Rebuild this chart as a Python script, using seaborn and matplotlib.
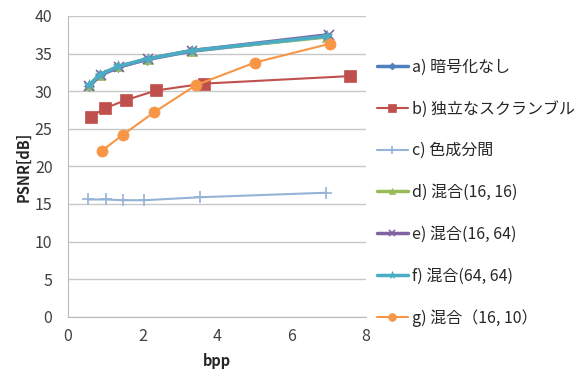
import pandas as pd
import matplotlib.pyplot as plt
import seaborn as sns

labels = ['a) 暗号化なし', 'b) 独立なスクランブル', 'c) 色成分間',
          'd) 混合(16, 16)', 'e) 混合(16, 64)', 'f) 混合(64, 64)', 'g) 混合（16, 10）']

bpp_a = [0.57, 0.86, 1.35, 2.13, 3.31, 6.94]
psnr_a = [30.7, 32.2, 33.2, 34.2, 35.3, 37.3]
bpp_b = [0.62, 0.99, 1.55, 2.38, 3.65, 7.57]
psnr_b = [26.6, 27.7, 28.8, 30.1, 31.0, 32.0]
bpp_c = [0.55, 1.02, 1.48, 2.05, 3.56, 6.94]
psnr_c = [15.6, 15.6, 15.5, 15.5, 15.9, 16.5]
bpp_d = [0.57, 0.87, 1.36, 2.14, 3.33, 6.96]
psnr_d = [30.8, 32.2, 33.3, 34.3, 35.4, 37.2]
bpp_e = [0.58, 0.88, 1.37, 2.15, 3.34, 7.0]
psnr_e = [30.7, 32.1, 33.2, 34.3, 35.4, 37.5]
bpp_f = [0.57, 0.87, 1.36, 2.14, 3.33, 6.96]
psnr_f = [30.8, 32.2, 33.3, 34.3, 35.4, 37.3]
bpp_g = [0.92, 1.48, 2.32, 3.44, 5.02, 7.03]
psnr_g = [22.1, 24.2, 27.2, 30.8, 33.8, 36.3]

all_bpp = [bpp_a, bpp_b, bpp_c, bpp_d, bpp_e, bpp_f, bpp_g]
all_psnr = [psnr_a, psnr_b, psnr_c, psnr_d, psnr_e, psnr_f, psnr_g]

df = pd.concat([pd.DataFrame({'bpp': x, 'PSNR': y, 'method': lab})
                for x, y, lab in zip(all_bpp, all_psnr, labels)])

colors = ['#4F81BD', '#C0504D', '#95B3D7', '#9BBB59', '#8064A2', '#4BACC6', '#F79646']
markers = ['D', 's', '+', '^', 'x', '*', 'o']
sizes = [5, 8, 9, 7, 7, 8, 8]
widths = [2.5, 1.5, 1.5, 2.5, 2.5, 2.5, 1.5]

sns.set_style('white')
plt.rcParams['font.family'] = ['Noto Sans CJK JP', 'DejaVu Sans']

fig = plt.figure(figsize=(5.79, 3.79), dpi=100)
ax = fig.add_axes([0.117, 0.164, 0.515, 0.794])

for i, lab in enumerate(labels):
    sns.lineplot(data=df[df['method'] == lab], x='bpp', y='PSNR', ax=ax,
                 color=colors[i], marker=markers[i], markersize=sizes[i],
                 markeredgecolor=colors[i], markeredgewidth=1.2 if markers[i] in '+x' else 0.5,
                 linewidth=widths[i], label=lab, sort=False, estimator=None)

ax.set_xlim(0, 8)
ax.set_ylim(0, 40)
ax.set_xticks([0, 2, 4, 6, 8])
ax.set_yticks(range(0, 41, 5))
ax.yaxis.grid(True, color='#C8C8C8', linewidth=1)
ax.set_axisbelow(True)
for s in ['top', 'right']:
    ax.spines[s].set_visible(False)
for s in ['left', 'bottom']:
    ax.spines[s].set_color('#BBBBBB')
ax.tick_params(axis='both', labelsize=11.5, colors='#404040', length=0)
ax.tick_params(axis='y', pad=11)
ax.tick_params(axis='x', pad=8)
ax.set_xlabel('bpp', fontsize=10.5, fontweight='bold', labelpad=6)
ax.set_ylabel('PSNR[dB]', fontsize=10.5, fontweight='bold', labelpad=2)

ax.legend(loc='upper left', bbox_to_anchor=(0.995, 0.9), frameon=False,
          fontsize=11.5, labelspacing=1.55, handlelength=1.9, handletextpad=0.25,
          borderaxespad=0.4, markerscale=0.7)

fig.savefig('out.png', dpi=100)
